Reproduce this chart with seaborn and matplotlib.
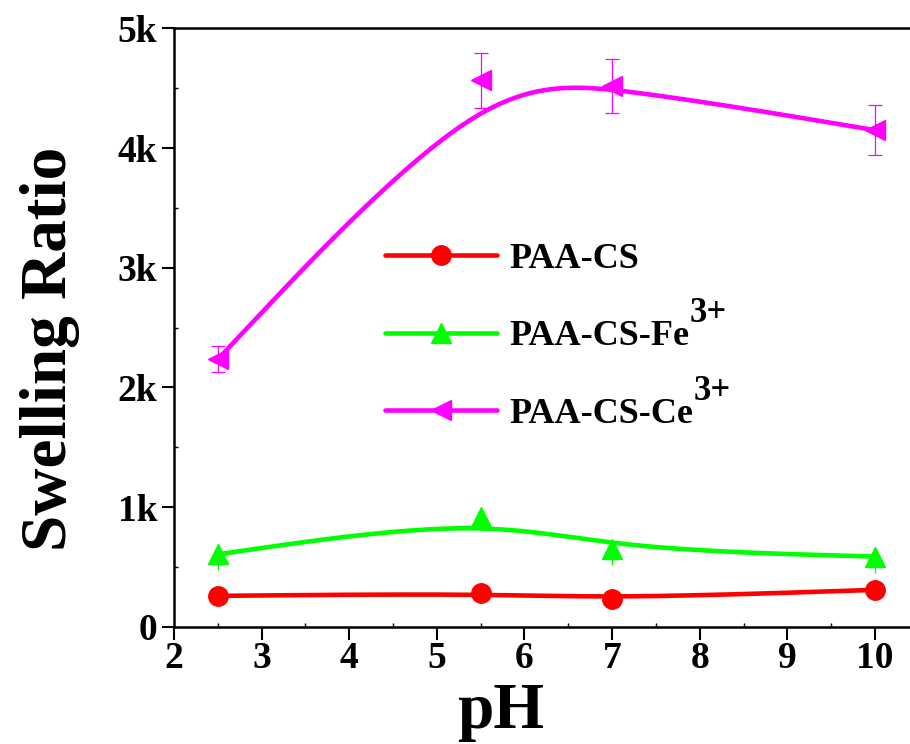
import numpy as np
import pandas as pd
import matplotlib
matplotlib.use('Agg')
import matplotlib.pyplot as plt
import seaborn as sns
from matplotlib.lines import Line2D
from matplotlib.ticker import MultipleLocator, FuncFormatter

# data
ph = [2.5, 5.5, 7.0, 10.0]
paa_cs = [260, 280, 237, 310]
paa_cs_err = [25, 25, 25, 25]
paa_fe = [607, 922, 649, 588]
paa_fe_err = [134, 109, 134, 137]
paa_ce = [2236, 4567, 4517, 4149]
paa_ce_err = [110, 230, 226, 207]

labels = ['PAA-CS', 'PAA-CS-Fe', 'PAA-CS-Ce']
sup_labels = ['', '3+', '3+']
colors = ['#FF0000', '#00FF00', '#FF00FF']
markers = ['o', '^', '<']
marker_sizes = [14, 15, 15]


def bspline3(xs, ys, n=60):
    # uniform cubic B-spline, end points tripled so it starts/ends on them
    p = np.column_stack([xs, ys]).astype(float)
    q = np.vstack([p[:1], p[:1], p, p[-1:], p[-1:]])
    t = np.linspace(0, 1, n)[:, None]
    b0 = (1 - t) ** 3 / 6
    b1 = (3 * t ** 3 - 6 * t ** 2 + 4) / 6
    b2 = (-3 * t ** 3 + 3 * t ** 2 + 3 * t + 1) / 6
    b3 = t ** 3 / 6
    segs = []
    for i in range(len(q) - 3):
        seg = b0 * q[i] + b1 * q[i + 1] + b2 * q[i + 2] + b3 * q[i + 3]
        segs.append(seg if i == 0 else seg[1:])
    out = np.vstack(segs)
    return out[:, 0], out[:, 1]


sns.set_style('ticks')
plt.rcParams['font.family'] = ['Liberation Serif', 'DejaVu Serif']
plt.rcParams['font.weight'] = 'bold'
for key in ['text.color', 'axes.labelcolor', 'xtick.color', 'ytick.color', 'axes.edgecolor']:
    plt.rcParams[key] = 'black'

fig = plt.figure(figsize=(9.1, 7.44), dpi=100)
ax = fig.add_axes([0.1912, 0.1573, 0.8088, 0.8047])

series = [(paa_cs, paa_cs_err, 'both'), (paa_fe, paa_fe_err, 'low'), (paa_ce, paa_ce_err, 'both')]
for (vals, err, mode), col, mk, ms in zip(series, colors, markers, marker_sizes):
    cx, cy = bspline3(ph, vals)
    df = pd.DataFrame({'pH': cx, 'ratio': cy})
    sns.lineplot(data=df, x='pH', y='ratio', sort=False, estimator=None,
                 color=col, lw=3.3, ax=ax, zorder=2)
    if mode == 'both':
        yerr = err
        cap = 4.7
    else:
        yerr = [err, [0] * len(err)]
        cap = 0
    ax.errorbar(ph, vals, yerr=yerr, fmt=mk, color=col, ms=ms, mec=col,
                elinewidth=0.9, capsize=cap, capthick=0.9, zorder=3)

ax.set_xlim(2, 10.4)
ax.set_ylim(0, 5000)
ax.xaxis.set_major_locator(MultipleLocator(1))
ax.xaxis.set_minor_locator(MultipleLocator(0.5))
ax.yaxis.set_major_locator(MultipleLocator(1000))
ax.yaxis.set_minor_locator(MultipleLocator(500))
ax.yaxis.set_major_formatter(FuncFormatter(lambda v, p: '0' if v == 0 else f'{int(v / 1000)}k'))

ax.tick_params(which='major', direction='out', length=9, width=1.5, labelsize=27, pad=3)
ax.tick_params(which='minor', direction='in', length=3, width=1)
ax.tick_params(axis='x', which='major', pad=1)
ax.spines['right'].set_visible(False)
for s in ['left', 'bottom', 'top']:
    ax.spines[s].set_linewidth(1.8)

ax.set_xlabel('pH', fontsize=47, fontweight='bold')
ax.set_ylabel('Swelling Ratio', fontsize=47, fontweight='bold')
ax.xaxis.set_label_coords(0.444, -0.092)
ax.yaxis.set_label_coords(-0.128, 0.464)

handles = [Line2D([], [], color=c, lw=3.3, marker=m, ms=14) for c, m in zip(colors, markers)]
leg = ax.legend(handles, labels, loc='upper left', bbox_to_anchor=(0.287, 0.642), frameon=False,
                fontsize=26, handlelength=3.1, handletextpad=0.35, labelspacing=1.22, borderpad=0,
                borderaxespad=0)

# superscript "3+" placed after the legend labels
fig.canvas.draw()
renderer = fig.canvas.get_renderer()
W, H = fig.get_size_inches() * fig.dpi
for txt, sup in zip(leg.get_texts(), sup_labels):
    if sup:
        bb = txt.get_window_extent(renderer)
        fig.text(bb.x1 / W, (bb.y0 + 23) / H, sup, ha='left', va='bottom',
                 fontsize=25, fontweight='bold')

fig.savefig('out.png', dpi=100)
